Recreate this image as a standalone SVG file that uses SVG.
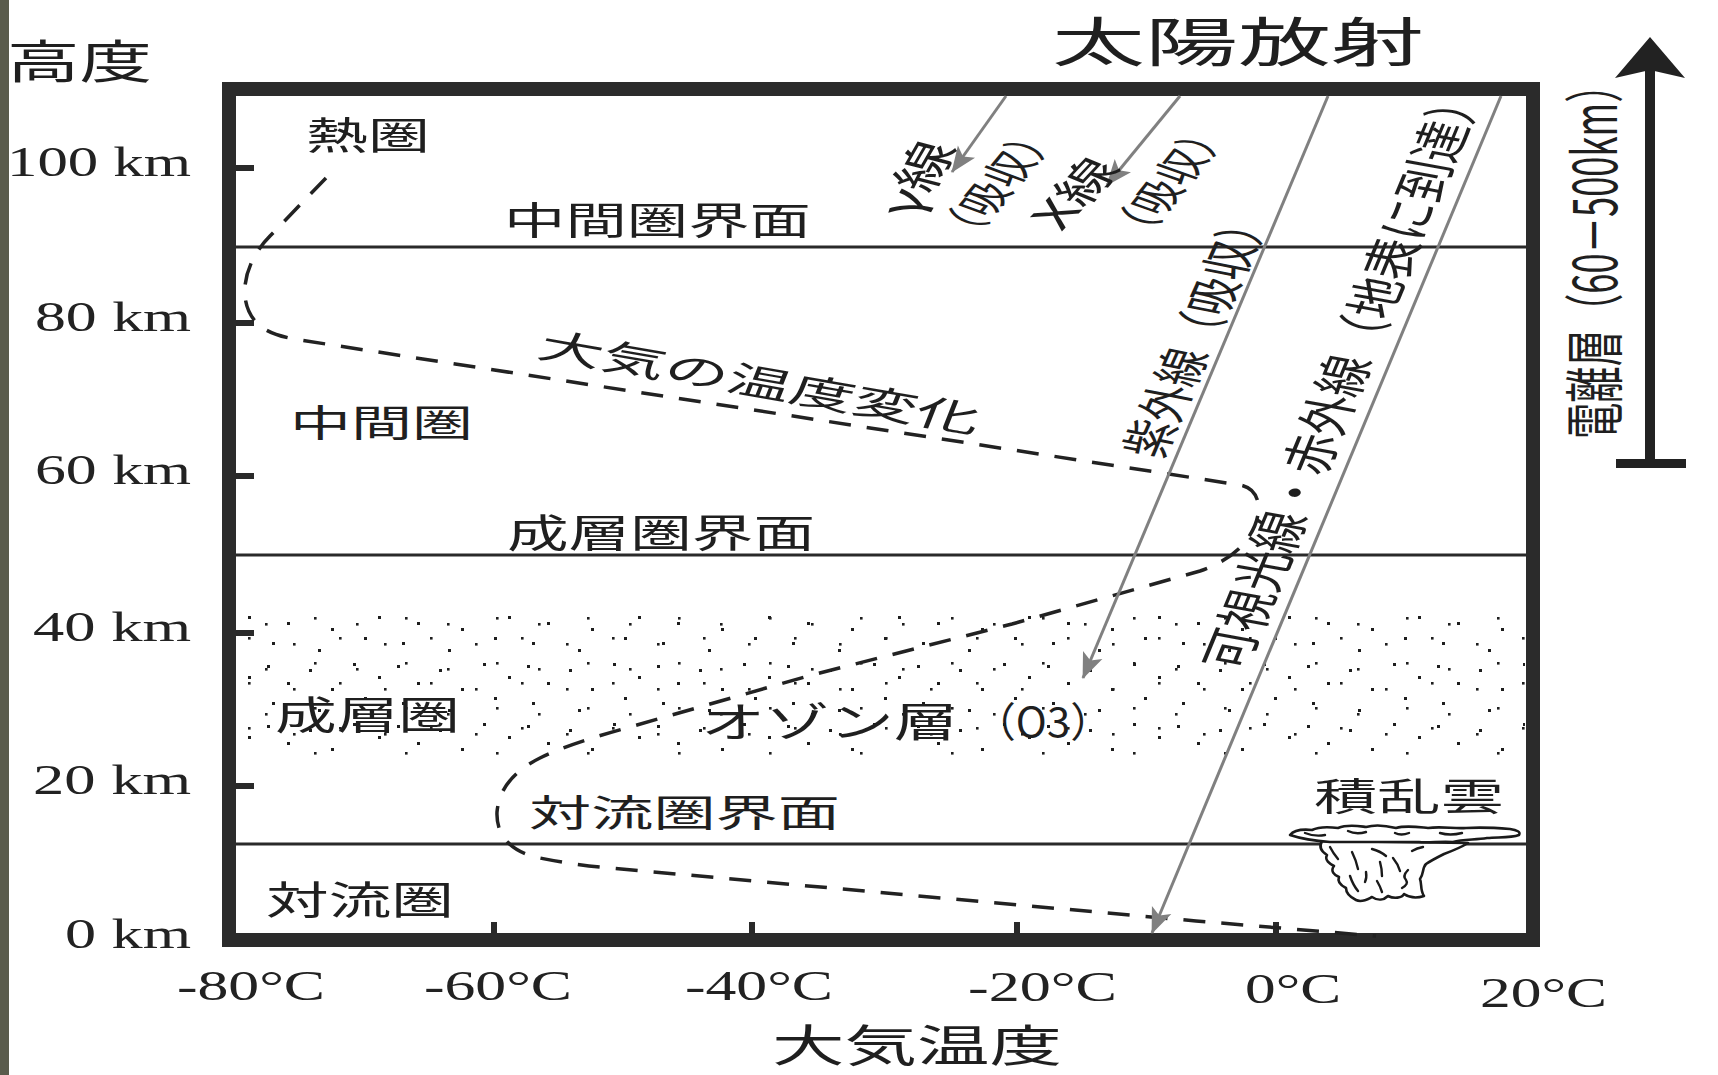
<svg xmlns="http://www.w3.org/2000/svg" width="1718" height="1075" viewBox="0 0 1718 1075">
<style>
  .jp { font-family: "Noto Sans CJK JP", "Noto Sans", sans-serif; fill: #1f1f1f; }
  .num { font-family: "Liberation Serif", serif; fill: #222; font-size: 42px; }
  .bound { stroke: #2a2a2a; stroke-width: 3; }
  .tick { stroke: #2a2a2a; stroke-width: 6; }
  .ray { stroke: #808080; stroke-width: 3; fill: none; marker-end: url(#head); }
  .curve { stroke: #222; stroke-width: 3.5; fill: none; stroke-dasharray: 22 16; }
  .cloud { stroke: #1a1a1a; stroke-width: 2.6; fill: #fff; stroke-linejoin: round; }
  .wisp { stroke: #1a1a1a; stroke-width: 2.4; fill: none; stroke-linecap: round; }
  .rl { text-anchor: middle; dominant-baseline: central; }
  .dot { fill: #1e1e1e; }
</style>
<defs>
  <marker id="head" viewBox="-27 -12 29 24" refX="0" refY="0" markerUnits="userSpaceOnUse" markerWidth="29" markerHeight="24" orient="auto">
    <path d="M1,0 L-25,-10.5 L-19,0 L-25,10.5 Z" fill="#808080"/>
  </marker>
  <pattern id="dotsA" width="130" height="60" patternUnits="userSpaceOnUse">
    <rect class="dot" x="7" y="5" width="3" height="3"/>
    <rect class="dot" x="49" y="9" width="3" height="3"/>
    <rect class="dot" x="93" y="3" width="3" height="3"/>
    <rect class="dot" x="118" y="16" width="3" height="3"/>
    <rect class="dot" x="27" y="22" width="3" height="3"/>
    <rect class="dot" x="71" y="28" width="3" height="3"/>
    <rect class="dot" x="104" y="37" width="3" height="3"/>
    <rect class="dot" x="12" y="42" width="3" height="3"/>
    <rect class="dot" x="58" y="49" width="3" height="3"/>
  </pattern>
  <pattern id="dotsB" width="91" height="45" patternUnits="userSpaceOnUse">
    <rect class="dot" x="20" y="13" width="2.6" height="2.6"/>
    <rect class="dot" x="66" y="7" width="2.6" height="2.6"/>
    <rect class="dot" x="41" y="32" width="2.6" height="2.6"/>
    <rect class="dot" x="83" y="38" width="2.6" height="2.6"/>
  </pattern>
</defs>

<rect width="1718" height="1075" fill="#fff"/>
<rect x="0" y="0" width="9" height="1075" fill="#5a5b4c"/>

<!-- ozone stipple band -->
<g id="ozone-band">
  <rect x="238" y="614" width="1287" height="143" fill="url(#dotsA)"/>
  <rect x="238" y="614" width="1287" height="143" fill="url(#dotsB)"/>
</g>

<!-- layer boundaries -->
<g id="boundaries">
  <line class="bound" x1="236" y1="247" x2="1526" y2="247"/>
  <line class="bound" x1="236" y1="555" x2="1526" y2="555"/>
  <line class="bound" x1="236" y1="844" x2="1526" y2="844"/>
</g>

<!-- plot frame and ticks -->
<g id="frame">
  <rect x="229" y="89" width="1304" height="851" fill="none" stroke="#2b2b2b" stroke-width="14"/>
  <line class="tick" x1="236" y1="168" x2="254" y2="168"/>
  <line class="tick" x1="236" y1="323" x2="254" y2="323"/>
  <line class="tick" x1="236" y1="476" x2="254" y2="476"/>
  <line class="tick" x1="236" y1="633" x2="254" y2="633"/>
  <line class="tick" x1="236" y1="786" x2="254" y2="786"/>
  <line class="tick" x1="494" y1="934" x2="494" y2="922"/>
  <line class="tick" x1="752" y1="934" x2="752" y2="922"/>
  <line class="tick" x1="1017" y1="934" x2="1017" y2="922"/>
  <line class="tick" x1="1276" y1="934" x2="1276" y2="922"/>
</g>

<!-- axis labels -->
<g id="y-axis">
  <text class="jp" x="7" y="78" font-size="46" textLength="145" lengthAdjust="spacingAndGlyphs">高度</text>
  <text class="num" x="7" y="176" textLength="184" lengthAdjust="spacingAndGlyphs">100 km</text>
  <text class="num" x="35" y="331" textLength="156" lengthAdjust="spacingAndGlyphs">80 km</text>
  <text class="num" x="35" y="484" textLength="156" lengthAdjust="spacingAndGlyphs">60 km</text>
  <text class="num" x="33" y="641" textLength="158" lengthAdjust="spacingAndGlyphs">40 km</text>
  <text class="num" x="33" y="794" textLength="158" lengthAdjust="spacingAndGlyphs">20 km</text>
  <text class="num" x="65" y="948" textLength="126" lengthAdjust="spacingAndGlyphs">0 km</text>
</g>
<g id="x-axis">
  <text class="num" x="177" y="1000" textLength="148" lengthAdjust="spacingAndGlyphs">-80°C</text>
  <text class="num" x="424" y="1000" textLength="148" lengthAdjust="spacingAndGlyphs">-60°C</text>
  <text class="num" x="685" y="1000" textLength="148" lengthAdjust="spacingAndGlyphs">-40°C</text>
  <text class="num" x="968" y="1001" textLength="149" lengthAdjust="spacingAndGlyphs">-20°C</text>
  <text class="num" x="1245" y="1003" textLength="96" lengthAdjust="spacingAndGlyphs">0°C</text>
  <text class="num" x="1480" y="1007" textLength="127" lengthAdjust="spacingAndGlyphs">20°C</text>
  <text class="jp" x="772" y="1062" font-size="44" textLength="290" lengthAdjust="spacingAndGlyphs">大気温度</text>
</g>

<!-- layer names -->
<g id="layer-labels">
  <text class="jp" x="306" y="149" font-size="38" textLength="124" lengthAdjust="spacingAndGlyphs">熱圏</text>
  <text class="jp" x="504" y="234" font-size="38" textLength="307" lengthAdjust="spacingAndGlyphs">中間圏界面</text>
  <text class="jp" x="290" y="437" font-size="37" textLength="183" lengthAdjust="spacingAndGlyphs">中間圏</text>
  <text class="jp" x="507" y="547" font-size="39" textLength="308" lengthAdjust="spacingAndGlyphs">成層圏界面</text>
  <text class="jp" x="275" y="729" font-size="39" textLength="185" lengthAdjust="spacingAndGlyphs">成層圏</text>
  <text class="jp" y="737" font-size="41"><tspan x="701" textLength="257" lengthAdjust="spacingAndGlyphs">オゾン層</tspan><tspan x="974" textLength="138" lengthAdjust="spacingAndGlyphs">（O3）</tspan></text>
  <text class="jp" x="529" y="827" font-size="37" textLength="311" lengthAdjust="spacingAndGlyphs">対流圏界面</text>
  <text class="jp" x="266" y="914" font-size="39" textLength="188" lengthAdjust="spacingAndGlyphs">対流圏</text>
  <text class="jp" x="1314" y="810" font-size="38" textLength="190" lengthAdjust="spacingAndGlyphs">積乱雲</text>
</g>

<!-- temperature profile -->
<g id="temperature-curve">
  <path class="curve" d="M326,178 L270,236 C244,262 236,300 256,322 C266,333 282,337 300,340 L1240,485 C1262,489 1264,515 1248,538 C1238,553 1222,563 1200,571 L1012,624 L808,676 L630,727 C590,738 560,748 540,758 C512,772 499,790 497,812 C496,835 510,852 540,858 C560,862 585,866 610,868 L1196,921 L1376,936"/>
  <text class="jp rl" font-size="36" textLength="303" lengthAdjust="spacingAndGlyphs" transform="translate(761,380) scale(1.5,1) rotate(14.7)">大気の温度変化</text>
</g>

<!-- cumulonimbus -->
<g id="cumulonimbus">
  <path class="cloud" d="M1322,841 C1318,848 1322,852 1327,855 C1324,860 1330,864 1334,866 C1330,871 1334,875 1339,877 C1337,882 1342,886 1346,888 C1346,893 1350,897 1356,900 C1362,903 1368,899 1372,897 C1378,901 1384,900 1388,896 C1394,899 1402,898 1404,894 C1410,898 1418,898 1424,896 C1420,890 1422,884 1420,879 C1424,874 1422,868 1426,864 C1432,860 1438,857 1444,854 C1452,851 1460,848 1468,843 Z"/>
  <path class="cloud" d="M1290,835 C1294,830 1302,829 1312,830 C1320,826 1330,827 1338,828 C1348,824 1358,826 1366,827 C1376,824 1388,826 1396,828 C1406,825 1418,827 1428,828 C1442,826 1454,829 1466,828 C1482,827 1498,828 1510,829 C1517,830 1521,832 1519,835 C1511,838 1499,837 1487,838 C1475,840 1463,839 1453,842 C1441,841 1429,843 1419,842 L1330,842 C1316,841 1302,839 1290,835 Z"/>
  <path class="wisp" d="M1330,847 q3,6 8,12 M1352,852 q4,8 6,17 M1372,849 q8,2 14,7 M1380,862 q2,7 2,14 M1393,858 q5,6 7,13 M1350,876 q3,9 8,15 M1366,872 q1,6 -1,10 M1377,881 q3,5 5,11 M1408,870 q-6,6 -2,10 q3,4 -4,8 M1412,851 q5,-3 11,-4 M1305,833 q10,4 20,2 M1348,831 q8,4 18,1 M1395,833 q6,3 14,0 M1440,833 q10,3 22,0"/>
</g>

<!-- solar radiation rays -->
<g id="connectors">
  <line class="ray" x1="1006" y1="96" x2="952" y2="172"/>
  <line class="ray" x1="1180" y1="96" x2="1107" y2="185"/>
  <line class="ray" x1="1328" y1="96" x2="1083" y2="678"/>
  <line class="ray" x1="1501" y1="96" x2="1152" y2="933"/>
</g>

<g id="ray-labels">
  <text class="jp" x="1052" y="62" font-size="53" textLength="372" lengthAdjust="spacingAndGlyphs">太陽放射</text>
  <text class="jp rl" font-size="36" textLength="78" lengthAdjust="spacingAndGlyphs" transform="translate(914,178) scale(1.5,1) rotate(-69)">γ線</text>
  <text class="jp rl" font-size="33" textLength="134" lengthAdjust="spacingAndGlyphs" transform="translate(994,183) scale(1.5,1) rotate(-61)">（吸収）</text>
  <text class="jp rl" font-size="35" textLength="76" lengthAdjust="spacingAndGlyphs" transform="translate(1072,192) scale(1.5,1) rotate(-58)">X線</text>
  <text class="jp rl" font-size="33" textLength="136" lengthAdjust="spacingAndGlyphs" transform="translate(1166,181) scale(1.5,1) rotate(-62)">（吸収）</text>
  <text class="jp rl" font-size="36" textLength="260" lengthAdjust="spacingAndGlyphs" transform="translate(1194,331) scale(1.5,1) rotate(-73.5)">紫外線（吸収）</text>
  <text class="jp rl" font-size="38" textLength="607" lengthAdjust="spacingAndGlyphs" transform="translate(1340,375) scale(1.5,1) rotate(-74.6)">可視光線・赤外線（地表に到達）</text>
</g>

<!-- ionosphere marker -->
<g id="ionosphere">
  <line x1="1650" y1="464" x2="1650" y2="70" stroke="#222" stroke-width="10"/>
  <path d="M1650,37 L1685,78 L1650,70 L1615,78 Z" fill="#222"/>
  <rect x="1616" y="459" width="70" height="9" fill="#222"/>
  <text class="jp" font-size="43" transform="translate(1617,439) rotate(-90) scale(0.845,1.4)">電離層（60－500km）</text>
</g>
</svg>
